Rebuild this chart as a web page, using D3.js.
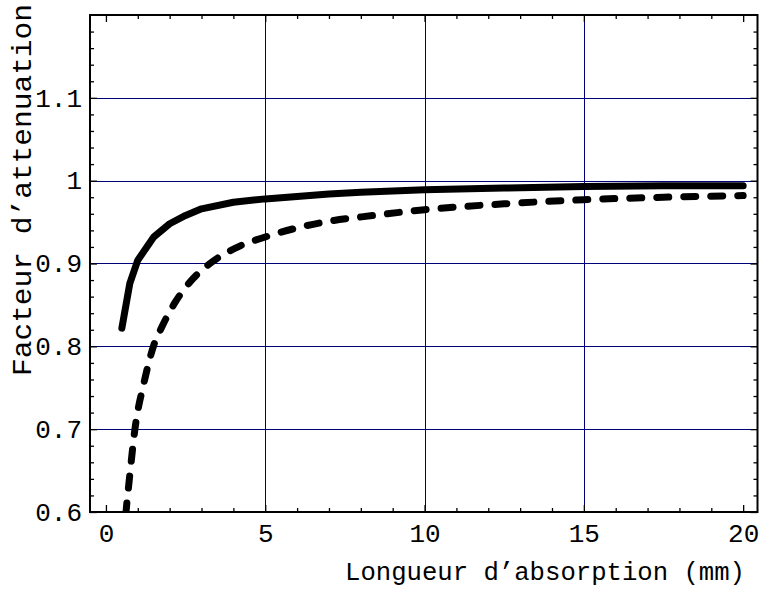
<!DOCTYPE html>
<html>
<head>
<meta charset="utf-8">
<script src="https://cdn.jsdelivr.net/npm/d3@7"></script>
<style>
  body { margin: 0; background: #fff; }
  svg { display: block; }
</style>
</head>
<body>
<svg id="chart"></svg>
<script>
// values
const lengthSolid = [0.5, 0.75, 1, 1.5, 2, 2.5, 3, 4, 5, 6, 7, 8, 10, 12.5, 15, 17.5, 20];
const factorSolid = [0.822, 0.876, 0.904, 0.932, 0.948, 0.958, 0.966, 0.974, 0.978, 0.981, 0.984, 0.986, 0.989, 0.991, 0.993, 0.994, 0.994];

const lengthDashed = [0.55, 0.63, 0.75, 0.91, 1.2, 1.49, 1.75, 2.17, 2.74, 3.37, 4.2, 5, 6, 7, 8.4, 10, 12.5, 15, 17.5, 20];
const factorDashed = [0.564, 0.6, 0.645, 0.7, 0.757, 0.8, 0.823, 0.853, 0.882, 0.903, 0.921, 0.932, 0.943, 0.951, 0.958, 0.965, 0.972, 0.977, 0.98, 0.982];

const xTicks = [0, 5, 10, 15, 20];
const yTicks = [0.6, 0.7, 0.8, 0.9, 1, 1.1];
const xGrid = [5, 10, 15];
const yGrid = [0.7, 0.8, 0.9, 1, 1.1];

const xTitle = "Longueur d\u2019absorption (mm)";
const yTitle = "Facteur d\u2019attenuation";

const W = 759, H = 598;
const box = { left: 90, right: 757.5, top: 15, bottom: 512 };
const gridColor = "#00007a";
const font = "'Liberation Mono', 'DejaVu Sans Mono', monospace";

const svg = d3.select("#chart").attr("width", W).attr("height", H);

const x = d3.scaleLinear().domain([-0.5, 20.45]).range([box.left, box.right]);
const y = d3.scaleLinear().domain([0.6, 1.2]).range([box.bottom, box.top]);

// clip for curves
svg.append("defs").append("clipPath").attr("id", "plot-clip")
  .append("rect")
  .attr("x", box.left).attr("y", box.top)
  .attr("width", box.right - box.left).attr("height", box.bottom - box.top);

// grid lines
svg.append("g").selectAll("line")
  .data(xGrid).enter().append("line")
  .attr("x1", d => Math.round(x(d)) + 0.5).attr("x2", d => Math.round(x(d)) + 0.5)
  .attr("y1", box.top).attr("y2", box.bottom)
  .attr("stroke", gridColor).attr("stroke-width", 1);

svg.append("g").selectAll("line")
  .data(yGrid).enter().append("line")
  .attr("x1", box.left).attr("x2", box.right)
  .attr("y1", d => Math.round(y(d)) + 0.5).attr("y2", d => Math.round(y(d)) + 0.5)
  .attr("stroke", gridColor).attr("stroke-width", 1);

// curves
const solid = lengthSolid.map((v, i) => [v, factorSolid[i]]);
const dashed = lengthDashed.map((v, i) => [v, factorDashed[i]]);
const line = d3.line().x(d => x(d[0])).y(d => y(d[1]));
const smooth = d3.line().x(d => x(d[0])).y(d => y(d[1])).curve(d3.curveMonotoneX);

const curves = svg.append("g").attr("clip-path", "url(#plot-clip)");
curves.append("path")
  .attr("d", line(solid))
  .attr("fill", "none").attr("stroke", "#000")
  .attr("stroke-width", 7).attr("stroke-linecap", "round").attr("stroke-linejoin", "round");

curves.append("path")
  .attr("d", smooth(dashed))
  .attr("fill", "none").attr("stroke", "#000")
  .attr("stroke-width", 7).attr("stroke-linecap", "round").attr("stroke-linejoin", "round")
  .attr("stroke-dasharray", "12,15");

// axes: ticks point inward
function styleAxis(g) {
  g.select(".domain").remove();
  g.selectAll("line").attr("stroke", "#000").attr("stroke-width", 1.3);
  g.attr("font-family", font).attr("font-size", 26);
  g.selectAll("text").attr("fill", "#000");
}

const xMinor = d3.range(0, 21).filter(d => d % 5 !== 0);
const yMinor = d3.range(0.62, 1.2, 0.02).map(d => +d.toFixed(2)).filter(d => Math.round(d * 100) % 10 !== 0);

svg.append("g").attr("transform", `translate(0,${box.bottom})`)
  .call(d3.axisBottom(x).tickValues(xTicks).tickFormat(d3.format("d")).tickSize(-7).tickPadding(12))
  .call(styleAxis);
svg.append("g").attr("transform", `translate(0,${box.bottom})`)
  .call(d3.axisBottom(x).tickValues(xMinor).tickFormat("").tickSize(-4))
  .call(styleAxis);
svg.append("g").attr("transform", `translate(0,${box.top})`)
  .call(d3.axisTop(x).tickValues(xTicks).tickFormat("").tickSize(-7))
  .call(styleAxis);
svg.append("g").attr("transform", `translate(0,${box.top})`)
  .call(d3.axisTop(x).tickValues(xMinor).tickFormat("").tickSize(-4))
  .call(styleAxis);

svg.append("g").attr("transform", `translate(${box.left},0)`)
  .call(d3.axisLeft(y).tickValues(yTicks).tickFormat(d => d === 1 ? "1" : d3.format(".1f")(d)).tickSize(-7).tickPadding(8))
  .call(styleAxis);
svg.append("g").attr("transform", `translate(${box.left},0)`)
  .call(d3.axisLeft(y).tickValues(yMinor).tickFormat("").tickSize(-4))
  .call(styleAxis);
svg.append("g").attr("transform", `translate(${box.right},0)`)
  .call(d3.axisRight(y).tickValues(yTicks).tickFormat("").tickSize(-7))
  .call(styleAxis);
svg.append("g").attr("transform", `translate(${box.right},0)`)
  .call(d3.axisRight(y).tickValues(yMinor).tickFormat("").tickSize(-4))
  .call(styleAxis);

// frame
svg.append("rect")
  .attr("x", box.left).attr("y", box.top)
  .attr("width", box.right - box.left).attr("height", box.bottom - box.top)
  .attr("fill", "none").attr("stroke", "#000").attr("stroke-width", 2);

// axis titles
svg.append("text")
  .attr("x", 345).attr("y", 580)
  .attr("font-family", font).attr("font-size", 26)
  .attr("textLength", 400).attr("lengthAdjust", "spacingAndGlyphs")
  .text(xTitle);

svg.append("text")
  .attr("transform", "translate(31,376) rotate(-90)")
  .attr("font-family", font).attr("font-size", 28)
  .attr("textLength", 372).attr("lengthAdjust", "spacingAndGlyphs")
  .text(yTitle);
</script>
</body>
</html>
